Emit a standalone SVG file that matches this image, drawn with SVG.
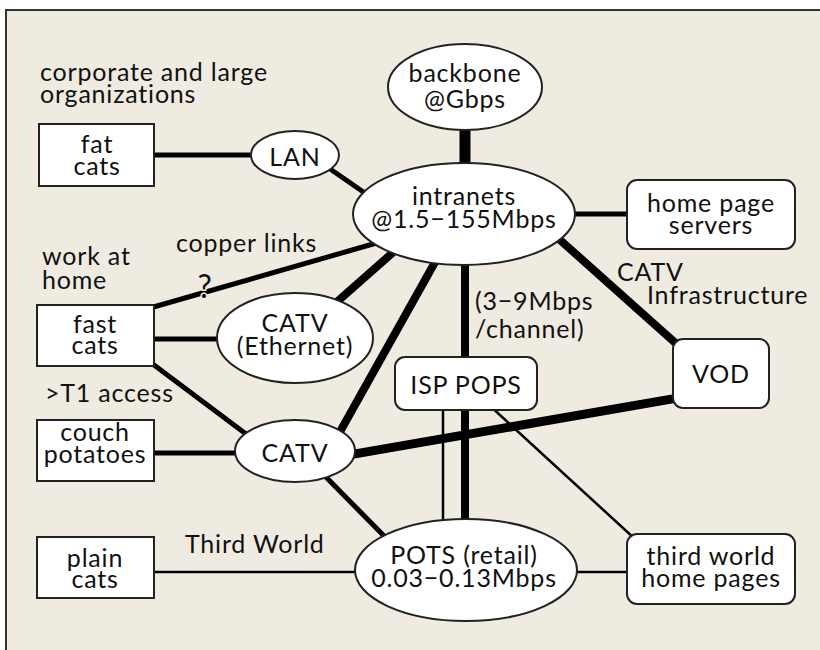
<svg xmlns="http://www.w3.org/2000/svg" width="820" height="650" viewBox="0 0 820 650">
<style>
.frame{fill:#efebe1;stroke:#333;stroke-width:2}
.n{fill:#fff;stroke:#222;stroke-width:2}
.t{font-family:Lato,"Open Sans","DejaVu Sans",sans-serif;font-size:25px;letter-spacing:0.8px;fill:#111}
.c{text-anchor:middle}
.e{stroke:#000;fill:none;stroke-linecap:butt}
.w1{stroke-width:2.5}.w2{stroke-width:5}.w3{stroke-width:8}.w4{stroke-width:11}
</style>
<rect width="820" height="650" fill="#fff"/>
<rect class="frame" x="6" y="10" width="830" height="660"/>
<g id="connectors">
<line class="e w4" x1="465" y1="125" x2="465" y2="170"/>
<line class="e w2" x1="150" y1="155" x2="255" y2="155"/>
<line class="e w2" x1="320" y1="162" x2="375" y2="200"/>
<line class="e w2" x1="150" y1="308" x2="380" y2="242"/>
<line class="e w2" x1="150" y1="339" x2="222" y2="339"/>
<line class="e w2" x1="150" y1="362" x2="250" y2="437"/>
<line class="e w2" x1="150" y1="453" x2="240" y2="453"/>
<line class="e w3" x1="330" y1="308" x2="398" y2="248"/>
<line class="e w3" x1="439" y1="255" x2="332" y2="446"/>
<line class="e w2" x1="570" y1="214" x2="630" y2="214"/>
<line class="e w3" x1="550" y1="231" x2="690" y2="356"/>
<line class="e w3" x1="465" y1="260" x2="465" y2="362"/>
<line class="e w3" x1="465" y1="405" x2="465" y2="525"/>
<line class="e w1" x1="443" y1="405" x2="443" y2="525"/>
<line class="e w1" x1="489" y1="405" x2="635" y2="539"/>
<line class="e" stroke-width="9" x1="345" y1="455.6" x2="680" y2="397.6"/>
<line class="e w2" x1="320" y1="471" x2="390" y2="542"/>
<line class="e w1" x1="150" y1="572" x2="360" y2="572"/>
<line class="e w1" x1="570" y1="572" x2="630" y2="572"/>
</g>
<g id="backbone"><ellipse class="n" cx="465" cy="87" rx="77" ry="43"/><text class="t c" x="465" y="82">backbone</text><text class="t c" x="465" y="108">@Gbps</text></g>
<g id="intranets"><ellipse class="n" cx="464" cy="214" rx="111" ry="51"/><text class="t c" x="464" y="205">intranets</text><text class="t c" x="464" y="228">@1.5−155Mbps</text></g>
<g id="lan"><ellipse class="n" cx="295" cy="155" rx="44" ry="24"/><text class="t c" x="295" y="166">LAN</text></g>
<g id="catv-ethernet"><ellipse class="n" cx="295" cy="338" rx="78" ry="45"/><text class="t c" x="295" y="332">CATV</text><text class="t c" x="295" y="355">(Ethernet)</text></g>
<g id="catv"><ellipse class="n" cx="295" cy="451" rx="60" ry="31"/><text class="t c" x="295" y="462">CATV</text></g>
<g id="pots"><ellipse class="n" cx="466" cy="570" rx="111" ry="51"/><text class="t c" x="464" y="564">POTS (retail)</text><text class="t c" x="464" y="587">0.03−0.13Mbps</text></g>
<g id="fat-cats"><rect class="n" x="39" y="124" width="115" height="62"/><text class="t c" x="97" y="153">fat</text><text class="t c" x="97" y="175">cats</text></g>
<g id="fast-cats"><rect class="n" x="37" y="305" width="117" height="61"/><text class="t c" x="95" y="333">fast</text><text class="t c" x="95" y="354">cats</text></g>
<g id="couch-potatoes"><rect class="n" x="37" y="420" width="117" height="61"/><text class="t c" x="95" y="441">couch</text><text class="t c" x="95" y="463">potatoes</text></g>
<g id="plain-cats"><rect class="n" x="37" y="537" width="117" height="61"/><text class="t c" x="95" y="567">plain</text><text class="t c" x="95" y="588">cats</text></g>
<g id="home-page-servers"><rect class="n" x="627" y="180" width="168" height="69" rx="10"/><text class="t c" x="711" y="212">home page</text><text class="t c" x="711" y="234">servers</text></g>
<g id="vod"><rect class="n" x="673" y="339" width="96" height="69" rx="10"/><text class="t c" x="721" y="383">VOD</text></g>
<g id="isp-pops"><rect class="n" x="395" y="357" width="142" height="53" rx="10"/><text class="t c" x="466" y="394">ISP POPS</text></g>
<g id="third-world-home-pages"><rect class="n" x="627" y="534" width="168" height="70" rx="10"/><text class="t c" x="711" y="565">third world</text><text class="t c" x="711" y="587">home pages</text></g>
<g id="labels">
<text class="t" x="40" y="81">corporate and large</text>
<text class="t" x="40" y="103">organizations</text>
<text class="t" x="42" y="265">work at</text>
<text class="t" x="42" y="289">home</text>
<text class="t" x="176" y="252">copper links</text>
<text class="t c" x="205" y="298" style="font-size:32px;stroke:#efebe1;stroke-width:3px;paint-order:stroke">?</text>
<text class="t" x="45" y="402">&gt;T1 access</text>
<text class="t" x="185" y="553">Third World</text>
<text class="t" x="475" y="310">(3−9Mbps</text>
<text class="t" x="475" y="338">/channel)</text>
<text class="t" x="617" y="281">CATV</text>
<text class="t" x="647" y="304">Infrastructure</text>
</g>
</svg>
